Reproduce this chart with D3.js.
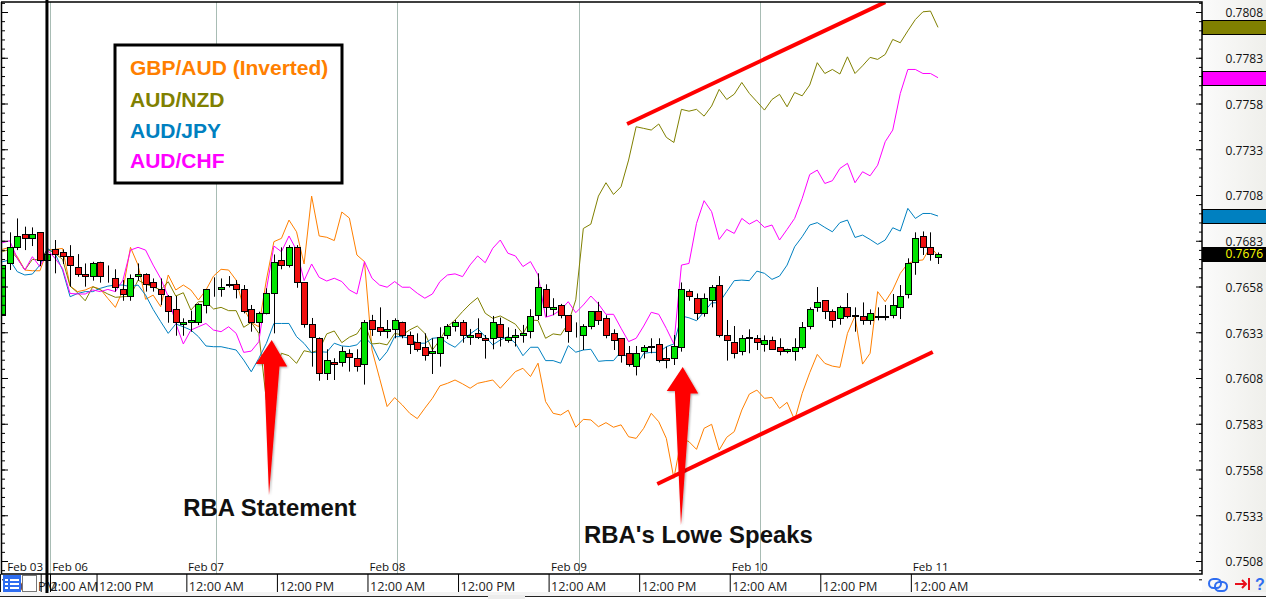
<!DOCTYPE html>
<html><head><meta charset="utf-8">
<script src="https://cdn.jsdelivr.net/npm/d3@7"></script>
<style>
html,body{margin:0;padding:0;background:#fff;overflow:hidden}
svg{display:block}
text{font-family:"Open Sans",sans-serif;fill:#111}
</style></head><body>
<svg id="c" width="1266" height="599"></svg>
<script>
// All prices in 1e-5 units (76760 = 0.76760). One entry per hourly bar.
const candleOpen=[76424,76706,76794,76865,76843,76876,76723,76783,76766,76745,76684,76646,76635,76712,76635,76624,76564,76526,76635,76646,76602,76564,76526,76455,76371,76384,76384,76477,76575,76564,76592,76592,76564,76455,76384,76433,76542,76723,76695,76794,76602,76373,76297,76106,76166,76166,76215,76188,76155,76395,76357,76335,76346,76384,76313,76275,76248,76215,76215,76313,76363,76384,76303,76324,76297,76297,76374,76286,76303,76313,76335,76423,76565,76456,76477,76423,76324,76313,76363,76445,76406,76324,76297,76215,76144,76226,76253,76264,76187,76187,76247,76553,76515,76433,76504,76586,76313,76275,76226,76304,76297,76264,76286,76247,76226,76226,76247,76362,76466,76504,76444,76406,76466,76424,76417,76395,76420,76419,76422,76466,76537,76712,76854,76794,76745];
const candleHigh=[76697,76876,76952,76907,76903,76876,76788,76834,76783,76806,76757,76706,76715,76715,76695,76674,76615,76646,76706,76652,76624,76624,76533,76528,76406,76448,76488,76564,76630,76624,76637,76615,76588,76479,76442,76570,76755,76794,76806,76806,76602,76408,76302,76237,76188,76252,76237,76237,76397,76425,76466,76397,76406,76388,76334,76324,76324,76297,76357,76375,76397,76397,76348,76406,76315,76419,76410,76357,76348,76370,76456,76652,76592,76516,76485,76423,76384,76374,76445,76496,76423,76346,76297,76255,76255,76260,76297,76297,76251,76315,76602,76564,76542,76542,76588,76637,76397,76364,76315,76346,76315,76313,76306,76297,76240,76297,76386,76466,76577,76504,76455,76475,76544,76466,76493,76455,76466,76479,76539,76588,76734,76876,76881,76876,76766];
const candleLow=[76424,76670,76779,76779,76801,76692,76697,76652,76703,76579,76633,76579,76612,76601,76601,76552,76502,76502,76612,76552,76552,76479,76382,76311,76311,76333,76369,76433,76524,76524,76575,76515,76433,76333,76324,76428,76324,76674,76684,76573,76355,76142,76065,76069,76069,76142,76115,76115,76044,76310,76310,76297,76297,76297,76211,76224,76175,76102,76142,76293,76334,76273,76261,76293,76186,76237,76252,76273,76252,76273,76297,76397,76415,76423,76406,76273,76301,76233,76346,76370,76297,76233,76164,76142,76094,76187,76215,76165,76133,76151,76224,76502,76397,76415,76466,76302,76175,76187,76204,76215,76233,76224,76233,76204,76215,76175,76236,76346,76442,76402,76355,76371,76406,76333,76371,76371,76395,76395,76406,76402,76515,76644,76752,76721,76703];
const candleClose=[76697,76796,76854,76843,76865,76723,76757,76755,76745,76695,76646,76633,76706,76635,76633,76575,76537,76624,76646,76592,76575,76537,76442,76382,76384,76395,76482,76564,76573,76575,76584,76564,76442,76384,76433,76542,76712,76695,76794,76602,76373,76302,76105,76179,76155,76226,76191,76144,76384,76346,76335,76346,76395,76313,76264,76237,76204,76226,76303,76363,76384,76313,76313,76303,76286,76384,76303,76303,76313,76324,76417,76576,76466,76466,76423,76335,76323,76363,76445,76395,76313,76286,76204,76154,76215,76247,76246,76176,76176,76253,76564,76526,76433,76515,76575,76311,76286,76215,76297,76300,76275,76286,76236,76226,76236,76247,76357,76455,76493,76444,76395,76466,76417,76420,76395,76433,76415,76415,76477,76526,76706,76843,76794,76755,76760];

const gbpAud=[76783,76794,76743,76670,76666,76666,76779,76783,76788,76582,76552,76561,76579,76566,76515,76466,76561,76794,76697,76510,76533,76470,76643,76561,76588,76561,76506,76561,76637,76674,76670,76615,76460,76384,76360,76615,76825,76843,76943,76879,76703,77074,76856,76849,76831,76987,76954,76752,76716,76233,76079,75924,75973,75933,75887,75858,75915,75969,76037,76051,76069,76048,76024,76051,76060,76069,76024,76069,76115,76133,76088,76161,75951,75887,75878,75904,75811,75854,75851,75814,75836,75811,75824,75759,75750,75805,75887,75841,75750,75532,75750,75732,75690,75805,75827,75686,75756,75787,75905,75992,76014,75969,75974,75914,75947,75850,75996,76109,76209,76160,76145,76138,76324,76419,76156,76215,76552,76497,76561,76652,76706,76721,76725,76797,76748];
const audNzd=[76770,76783,76734,76670,76728,76725,76783,76761,76728,76582,76546,76502,76579,76561,76539,76521,76524,76528,76615,76593,76579,76561,76606,76528,76546,76451,76497,76497,76457,76466,76448,76448,76357,76384,76324,75960,76087,76215,76202,76160,76229,76220,76233,76321,76337,76273,76303,76321,76383,76266,76270,76261,76324,76315,76343,76364,76324,76233,76288,76361,76397,76443,76485,76519,76434,76406,76419,76397,76374,76321,76397,76394,76297,76321,76315,76379,76507,76897,76921,77074,77147,77083,77125,77271,77453,77444,77435,77468,77395,77367,77548,77538,77548,77511,77566,77657,77602,77631,77695,77635,77590,77544,77602,77630,77562,77640,77622,77681,77803,77744,77766,77741,77835,77744,77786,77832,77821,77848,77930,77912,77977,78039,78081,78085,77996];
const audJpy=[76715,76725,76661,76643,76648,76697,76788,76761,76670,76524,76542,76552,76552,76570,76582,76588,76588,76579,76588,76533,76455,76388,76324,76375,76360,76342,76306,76255,76251,76251,76242,76233,76178,76114,76187,76269,76378,76378,76378,76306,76269,76218,76224,76221,76270,76255,76252,76261,76306,76261,76175,76224,76306,76306,76297,76270,76270,76297,76301,76270,76248,76288,76321,76350,76306,76261,76288,76306,76270,76202,76248,76248,76175,76175,76161,76257,76221,76233,76237,76171,76175,76175,76224,76187,76145,76215,76220,76220,76251,76266,76419,76409,76393,76442,76491,76491,76552,76612,76615,76612,76664,76652,76619,76637,76697,76797,76852,76916,76929,76903,76879,76929,76943,76848,76861,76837,76810,76834,76901,76883,77007,76952,76979,76979,76965];
const audChf=[76819,76830,76734,76670,76743,76688,76779,76734,76679,76542,76539,76539,76561,76552,76564,76552,76615,76779,76794,76779,76697,76624,76524,76378,76266,76342,76360,76378,76342,76333,76360,76324,76220,76227,76278,76561,76801,76770,76856,76779,76612,76703,76630,76610,76625,76607,76561,76539,76716,76625,76588,76576,76607,76576,76576,76543,76516,76539,76607,76643,76649,76634,76698,76747,76710,76789,76834,76762,76747,76689,76716,76643,76412,76425,76452,76497,76437,76479,76528,76485,76428,76428,76352,76279,76297,76364,76439,76428,76351,76266,76697,76706,76925,77049,76989,76837,76892,76870,76952,76921,76943,76903,76916,76834,76892,76952,77061,77192,77216,77143,77158,77225,77253,77147,77207,77185,77243,77371,77435,77635,77766,77766,77744,77744,77721];

const seriesNames=["GBP/AUD (Inverted)","AUD/NZD","AUD/JPY","AUD/CHF"];
const seriesColors=["#ff7f00","#808000","#0080c0","#ff00ff"];
const priceLabels=["0.7808","0.7783","0.7758","0.7733","0.7708","0.7683","0.7658","0.7633","0.7608","0.7583","0.7558","0.7533","0.7508"];
const dayLabels=["Feb 03","Feb 06","Feb 07","Feb 08","Feb 09","Feb 10","Feb 11"];
const dayBars=[0.6,6.55,24.55,48.6,72.65,96.6,120.6];
const timeLabels=["12:00 PM","12:00 AM","12:00 PM","12:00 AM","12:00 PM","12:00 AM","12:00 PM","12:00 AM","12:00 PM","12:00 AM","12:00 PM","12:00 AM"];
const timeBars=[-0.3,5.1,12.5,24.4,36.4,48.4,60.4,72.4,84.4,96.4,108.4,120.4];
const dayBreakBars=[6.37,28.37,52.37,76.37,100.37];
const blackBar=5.93;
const trendLines=[[[82.8,77468],[117.0,78134]],[[86.8,75501],[123.3,76222]]];
const arrows=[{tipBar:35.71,tailBar:35.35,tip:76288,tail:75441},{tipBar:90.17,tailBar:89.94,tip:76140,tail:75277}];
const notes=[{text:"RBA Statement",bar:24.0,price:75331-6},{text:"RBA's Lowe Speaks",bar:77.1,price:75184-6}];

const svg=d3.select("#c");
const x=d3.scaleLinear().domain([0,124]).range([2.2,2.2+124*7.547]);
const y=d3.scaleLinear().domain([0.7508,0.7808]).range([561,12]);
const yp=v=>y(v/1e5);
const L=1,R=1202,T=2,B=574;

const defs=svg.append("defs");
const g=defs.append("linearGradient").attr("id","panel");
g.append("stop").attr("offset","0").attr("stop-color","#fbfbfb");
g.append("stop").attr("offset","1").attr("stop-color","#efefeb");
defs.append("clipPath").attr("id","plot").append("rect").attr("x",L).attr("y",T).attr("width",R-L).attr("height",B-T);
const blur=defs.append("filter").attr("id","soft").attr("x","-30%").attr("y","-10%").attr("width","160%").attr("height","120%");
blur.append("feDropShadow").attr("dx",1).attr("dy",1).attr("stdDeviation",1).attr("flood-color","#000").attr("flood-opacity",.35);

// chrome
svg.append("rect").attr("x",R).attr("y",0).attr("width",64).attr("height",592).attr("fill","url(#panel)");
svg.append("rect").attr("x",0).attr("y",592).attr("width",1266).attr("height",4).attr("fill","#f4f4f4");
svg.append("rect").attr("x",0).attr("y",596).attr("width",488).attr("height",1).attr("fill","#222");
svg.append("rect").attr("x",525).attr("y",596).attr("width",741).attr("height",1).attr("fill","#222");
svg.append("rect").attr("x",488).attr("y",595).attr("width",37).attr("height",4).attr("fill","#ececec");

const plot=svg.append("g").attr("clip-path","url(#plot)");
plot.selectAll("line.grid").data(dayBreakBars).join("line").attr("class","grid")
 .attr("x1",d=>Math.round(x(d))+.5).attr("x2",d=>Math.round(x(d))+.5).attr("y1",T).attr("y2",B)
 .attr("stroke","#a8bcb4").attr("stroke-width",1);

// overlay lines
const lineGen=d3.line().x((d,i)=>x(i)).y(d=>yp(d));
[gbpAud,audNzd,audJpy,audChf].forEach((s,i)=>{
 plot.append("path").attr("d",lineGen(s)).attr("fill","none").attr("stroke",seriesColors[i]).attr("stroke-width",1);
});

// candles
const idx=d3.range(candleOpen.length);
const cg=plot.append("g");
cg.selectAll("line").data(idx).join("line")
 .attr("x1",i=>Math.round(x(i))+.5).attr("x2",i=>Math.round(x(i))+.5)
 .attr("y1",i=>yp(candleHigh[i])).attr("y2",i=>yp(candleLow[i]))
 .attr("stroke","#000").attr("stroke-width",1);
cg.selectAll("rect").data(idx).join("rect")
 .attr("x",i=>Math.round(x(i))-2.5).attr("width",6)
 .attr("y",i=>Math.round(yp(Math.max(candleOpen[i],candleClose[i])))+.5)
 .attr("height",i=>Math.max(0,Math.round(Math.abs(yp(candleOpen[i])-yp(candleClose[i])))))
 .attr("fill",i=>candleClose[i]>=candleOpen[i]?"#00e400":"#f01010")
 .attr("stroke","#000").attr("stroke-width",1);

// trend lines
plot.selectAll("line.trend").data(trendLines).join("line").attr("class","trend")
 .attr("x1",d=>x(d[0][0])).attr("y1",d=>yp(d[0][1])).attr("x2",d=>x(d[1][0])).attr("y2",d=>yp(d[1][1]))
 .attr("stroke","#ff0000").attr("stroke-width",4);

// arrows
svg.selectAll("path.arrow").data(arrows).join("path").attr("class","arrow")
 .attr("d",a=>{const c=x(a.tipBar),c2=x(a.tailBar),t=yp(a.tip),b=yp(a.tail);
   return `M${c},${t}L${c+15.5},${t+26.5}L${c+7.8},${t+26.5}L${c2},${b}L${c-7.8},${t+24}L${c-16},${t+24}Z`;})
 .attr("fill","#ff0000").attr("filter","url(#soft)");

// frame
const frame=svg.append("g").attr("stroke","#000").attr("fill","none");
frame.append("path").attr("d",`M${L+.5},${T}V${B}H${R}V${T}H${L}`).attr("stroke-width",1.5);

// y axes
const minorVals=d3.range(7498,7816,1).filter(v=>(v-7498)%5===0).map(v=>v/1e4);
const axR=svg.append("g").attr("transform",`translate(${R},0)`)
 .call(d3.axisLeft(y).tickValues(minorVals).tickSize(3).tickFormat(""));
const axR2=svg.append("g").attr("transform",`translate(${R},0)`)
 .call(d3.axisLeft(y).tickValues(priceLabels.map(Number)).tickSize(6).tickFormat(""));
const axL=svg.append("g").attr("transform",`translate(${L+1},0)`)
 .call(d3.axisRight(y).tickValues(minorVals).tickSize(3).tickFormat(""));
const axL2=svg.append("g").attr("transform",`translate(${L+1},0)`)
 .call(d3.axisRight(y).tickValues(priceLabels.map(Number)).tickSize(6).tickFormat(""));
[axR,axR2,axL,axL2].forEach(a=>a.select(".domain").remove());
const axLab=svg.append("g").attr("transform","translate(1263,1)")
 .call(d3.axisLeft(y).tickValues(priceLabels.map(Number)).tickSize(0).tickPadding(0).tickFormat(d3.format(".4f")));
axLab.select(".domain").remove();
axLab.selectAll("text").attr("font-size",12).attr("font-family",'"Open Sans",sans-serif').style("fill","#111");

// last-value tags
const tags=[[audNzd,seriesColors[1]],[audChf,seriesColors[3]],[audJpy,seriesColors[2]],[candleClose,"#000"]];
svg.selectAll("rect.tag").data(tags).join("rect").attr("class","tag")
 .attr("x",R+.5).attr("width",65)
 .attr("y",d=>Math.round(yp(d[0][d[0].length-1]))-6.5).attr("height",14)
 .attr("fill",d=>d[1]).attr("stroke","#000").attr("stroke-width",1);
const lastClose=candleClose[candleClose.length-1];
svg.append("text").attr("x",1263).attr("y",yp(lastClose)+4.5).attr("text-anchor","end").attr("font-size",12).style("fill","#ffff00").text((lastClose/1e5).toFixed(4));

// x axes
const axDay=svg.append("g").attr("transform",`translate(0,${B})`)
 .call(d3.axisBottom(x).tickValues(dayBars).tickSize(0).tickFormat((d,i)=>dayLabels[i]));
axDay.select(".domain").remove();
axDay.selectAll("text").attr("text-anchor","start").attr("y",-3.5).attr("dy",0).attr("font-size",11.6).attr("font-family",'"Open Sans",sans-serif').style("fill","#111");
const axTime=svg.append("g").attr("transform",`translate(0,${B})`)
 .call(d3.axisBottom(x).tickValues(timeBars).tickSize(18).tickFormat((d,i)=>timeLabels[i]));
axTime.select(".domain").remove();
axTime.selectAll("text").attr("text-anchor","start").attr("x",2).attr("y",17).attr("dy",0).attr("font-size",12.7).attr("font-family",'"Open Sans",sans-serif').style("fill","#222");
svg.append("line").attr("x1",Math.round(x(dayBreakBars[0]))+.5).attr("x2",Math.round(x(dayBreakBars[0]))+.5).attr("y1",B).attr("y2",592).attr("stroke","#000");

// black vertical
svg.append("rect").attr("x",x(blackBar)-1.5).attr("y",0).attr("width",3).attr("height",593).attr("fill","#000");

// legend
svg.append("rect").attr("x",115).attr("y",45).attr("width",227).attr("height",138).attr("fill","#fff").attr("stroke","#000").attr("stroke-width",3);
const legendBase=[75,107,138,168];
svg.selectAll("text.leg").data(seriesNames).join("text").attr("class","leg")
 .attr("x",130).attr("y",(d,i)=>legendBase[i]).text(d=>d)
 .style("font-family",'"Liberation Sans",Arial,sans-serif').style("font-weight","bold").style("font-size","21px")
 .style("fill",(d,i)=>seriesColors[i]);

// notes
svg.selectAll("text.note").data(notes).join("text").attr("class","note")
 .attr("x",d=>x(d.bar)).attr("y",d=>yp(d.price)).text(d=>d.text)
 .style("font-family",'"Liberation Sans",Arial,sans-serif').style("font-weight","bold").style("font-size","23.9px").style("fill","#111");

// toolbar icons
const ic=svg.append("g");
ic.append("rect").attr("x",3).attr("y",575).attr("width",18).attr("height",17).attr("fill","#2f6df0");
[579,583,587].forEach(v=>{ic.append("rect").attr("x",5).attr("y",v).attr("width",3).attr("height",2).attr("fill","#fff");
 ic.append("rect").attr("x",10).attr("y",v).attr("width",9).attr("height",2).attr("fill","#fff");});
ic.append("rect").attr("x",22.5).attr("y",575.5).attr("width",14).attr("height",16).attr("fill","#fff").attr("stroke","#777");
ic.append("rect").attr("x",1209).attr("y",579).attr("width",12).attr("height",9).attr("rx",4.5).attr("fill","none").attr("stroke","#2f6df0").attr("stroke-width",2);
ic.append("rect").attr("x",1215).attr("y",582).attr("width",12).attr("height",9).attr("rx",4.5).attr("fill","none").attr("stroke","#2f6df0").attr("stroke-width",2);
ic.append("path").attr("d","M1235,584H1246M1242,580L1246,584L1242,588M1249,578V590").attr("fill","none").attr("stroke","#e8101c").attr("stroke-width",2);
ic.append("text").attr("x",1255).attr("y",590).text("?").style("font-family",'"Liberation Sans",sans-serif').style("font-weight","bold").style("font-size","16px").style("fill","#2f6df0");
</script>
</body></html>
